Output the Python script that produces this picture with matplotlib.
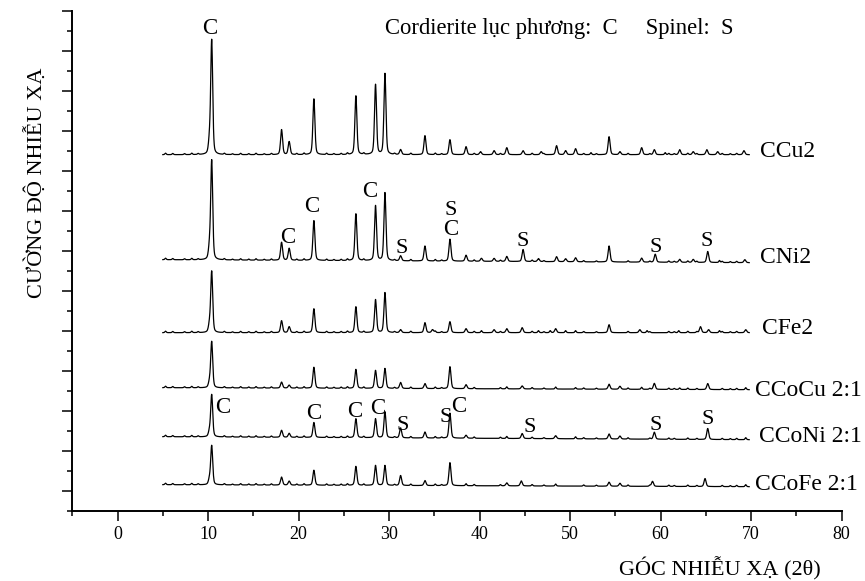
import numpy as np
import matplotlib.pyplot as plt

plt.rcParams['font.family'] = ['Liberation Serif', 'DejaVu Serif']

# mau va duong nen (offset) cua tung pho
samples = ['CCu2', 'CNi2', 'CFe2', 'CCoCu 2:1', 'CCoNi 2:1', 'CCoFe 2:1']
base_start = [356, 251, 178, 123, 74, 26]
base_end = [356, 248, 178, 121, 71, 24]

# vi tri pic (2theta) va cuong do doc tu hinh
ccu2_pos = [10.15, 10.4, 18.12, 18.96, 21.69, 26.33, 28.5, 29.54, 31.27, 33.96, 36.72, 38.5, 40.1, 41.6, 43.0,
            44.8, 46.8, 48.5, 49.5, 50.6, 52.3, 54.3, 55.5, 57.9, 59.3, 60.5, 62.1, 63.6, 65.1, 66.3, 69.2]
ccu2_int = [12, 114, 25, 13, 56, 59, 70, 81, 5, 19, 15, 8, 3, 4, 7,
            4, 3, 9, 4, 6, 2, 18, 3, 7, 5, 2, 5, 3, 5, 3, 4]

cni2_pos = [10.15, 10.4, 18.12, 18.96, 21.69, 26.33, 28.5, 29.54, 31.27, 33.96, 36.72, 38.5, 40.2, 41.6, 43.0,
            44.8, 46.5, 48.5, 49.5, 50.6, 54.3, 57.9, 59.4, 62.1, 63.6, 65.2, 66.5, 69.3]
cni2_int = [11, 99, 18, 12, 40, 47, 55, 68, 5, 15, 22, 6, 3, 3, 5,
            12, 3, 5, 3, 4, 16, 4, 8, 3, 3, 11, 2, 3]

cfe2_pos = [10.15, 10.4, 18.12, 18.96, 21.69, 26.33, 28.5, 29.54, 31.27, 33.96, 34.8, 36.72, 38.5, 40.2, 41.6,
            43.0, 44.7, 46.5, 47.8, 48.4, 49.5, 50.6, 54.3, 57.7, 58.5, 62.0, 64.4, 65.3, 66.5, 69.4]
cfe2_int = [7, 61, 12, 6, 24, 26, 33, 40, 3, 10, 3, 11, 4, 2, 3,
            4, 5, 2, 2, 4, 2, 2, 8, 3, 2, 2, 6, 3, 2, 3]

ccocu_pos = [10.15, 10.4, 18.12, 18.96, 21.69, 26.33, 28.5, 29.54, 31.27, 33.96, 36.72, 38.5, 43.0, 44.7,
             48.4, 50.6, 54.3, 55.5, 57.9, 59.3, 62.1, 65.2, 69.4]
ccocu_int = [5, 46, 6, 3, 21, 19, 18, 20, 6, 5, 22, 4, 2, 3,
             2, 1.5, 5, 3, 2, 6, 1.5, 6, 2]

cconi_pos = [10.15, 10.4, 18.12, 18.96, 21.69, 26.33, 28.5, 29.54, 31.27, 33.96, 36.72, 38.5, 43.0, 44.7,
             48.4, 50.6, 54.3, 55.5, 59.3, 65.2, 69.4]
cconi_int = [5, 42, 7, 4, 15, 19, 19, 26, 10, 6, 25, 3, 2, 5,
             3, 2, 5, 3, 7, 11, 2]

ccofe_pos = [10.15, 10.4, 18.12, 18.96, 21.69, 26.33, 28.5, 29.54, 31.27, 33.96, 36.72, 38.5, 43.0, 44.6,
             48.4, 54.3, 55.5, 59.1, 64.9, 69.4]
ccofe_int = [5, 39, 8, 4, 15, 19, 20, 20, 10, 5, 23, 2, 3, 5,
             2, 4, 3, 5, 8, 2]

# gon nho tren duong nen, chung cho moi pho
ripple_pos = [5.3, 6.1, 7.4, 8.2, 8.9, 11.8, 12.7, 13.6, 14.5, 15.3, 16.2, 17.0, 19.8, 20.6, 23.1, 23.9,
              24.7, 25.4, 27.2, 30.6, 32.4, 35.1, 35.8, 39.4, 42.3, 45.8, 47.1, 51.5, 52.9, 56.4, 58.8,
              60.9, 61.5, 63.0, 64.0, 66.8, 67.7, 68.4]
ripple_int = [1.5, 1.2, 1.0, 1.4, 1.0, 1.2, 0.8, 1.3, 1.0, 1.4, 0.9, 1.2, 1.1, 1.4, 1.3, 1.0,
              1.2, 1.5, 1.3, 1.0, 1.4, 1.5, 1.0, 1.3, 1.2, 1.4, 1.0, 1.2, 1.0, 1.3, 1.0,
              1.3, 1.0, 1.4, 1.1, 1.2, 1.0, 1.3]

peak_pos = [ccu2_pos, cni2_pos, cfe2_pos, ccocu_pos, cconi_pos, ccofe_pos]
peak_int = [ccu2_int, cni2_int, cfe2_int, ccocu_int, cconi_int, ccofe_int]

# ten mau ben phai
label_x = [71.0, 71.0, 71.2, 70.4, 70.9, 70.4]
label_y = [361, 255, 184, 122, 76, 28]

# ky hieu pha tren cac pic
mark_text = ['C', 'C', 'C', 'C', 'S', 'S', 'C', 'S', 'S', 'S',
             'C', 'C', 'C', 'C', 'S', 'S', 'C', 'S', 'S', 'S']
mark_x = [10.2, 18.83, 21.47, 27.8, 31.38, 36.83, 36.83, 44.79, 59.4, 65.12,
          11.64, 21.7, 26.2, 28.76, 31.5, 36.2, 37.7, 45.55, 59.4, 65.2]
mark_y = [484, 275, 306, 321, 265, 303, 283, 272, 266, 272,
          105, 99, 101, 104, 88, 96, 106, 86, 88, 94]

two_theta = np.arange(5.0, 69.8, 0.02)


def pattern(pos, hts, y0, y1):
    y = y0 + (y1 - y0) * (two_theta - two_theta[0]) / (two_theta[-1] - two_theta[0])
    for p, h in zip(pos + ripple_pos, hts + ripple_int):
        w = 0.26 if h > 2 else 0.18
        d = (two_theta - p) / w
        g = np.exp(-4 * np.log(2) * d ** 2)
        lo = 1 / (1 + 4 * d ** 2)
        y = y + h * (0.65 * g + 0.35 * lo)
    return y


fig = plt.figure(figsize=(8.65, 5.81), dpi=100)
ax = fig.add_axes([72.3 / 865, 1 - 510.7 / 581, (841.7 - 72.3) / 865, 500 / 581])

for i in range(len(samples)):
    ax.plot(two_theta, pattern(peak_pos[i], peak_int[i], base_start[i], base_end[i]),
            color='black', lw=0.9)
    ax.text(label_x[i], label_y[i] - 7, samples[i], fontsize=17, ha='left', va='baseline')

for t, x, y in zip(mark_text, mark_x, mark_y):
    ax.text(x, y - 7, t, fontsize=16.5 if t == 'C' else 16, ha='center', va='baseline')

ax.text(29.6, 477, 'Cordierite lục phương:  C     Spinel:  S', fontsize=16.3, ha='left', va='baseline')

ax.set_xlim(-5, 80)
ax.set_ylim(0, 500)
ax.set_xticks(np.arange(0, 81, 10))
ax.set_xticks(np.arange(-5, 80, 10), minor=True)
ax.set_yticks(np.arange(20, 501, 40))
ax.set_yticks(np.arange(0, 500, 40), minor=True)
ax.set_yticklabels([])
ax.tick_params(which='major', length=7, width=1.1, labelsize=13, pad=4)
ax.tick_params(which='minor', length=3.5, width=1.1)
ax.spines['top'].set_visible(False)
ax.spines['right'].set_visible(False)
ax.spines['left'].set_linewidth(1.4)
ax.spines['bottom'].set_linewidth(1.4)

fig.text(720 / 865, 6 / 581, 'GÓC NHIỄU XẠ (2θ)', fontsize=16, ha='center', va='baseline')
fig.text(48 / 865, 1 - 183 / 581, 'CƯỜNG ĐỘ NHIỄU XẠ', fontsize=16, rotation=90,
         ha='right', va='center')

fig.savefig('out.png', dpi=100)
